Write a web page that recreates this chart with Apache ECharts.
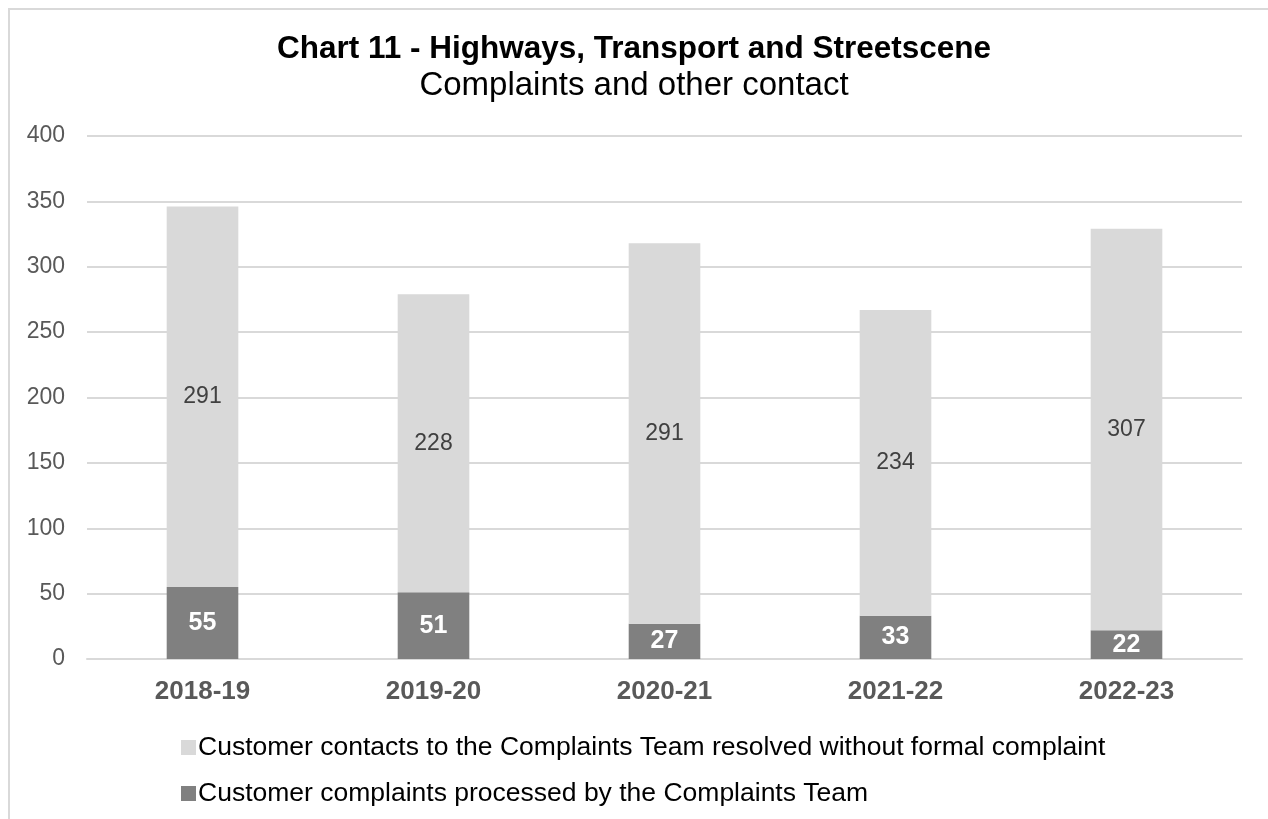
<!DOCTYPE html>
<html>
<head>
<meta charset="utf-8">
<script src="https://cdn.jsdelivr.net/npm/echarts@6/dist/echarts.min.js"></script>
<style>
    html, body { margin: 0; padding: 0; background: #fff; }
    #frame { position: absolute; left: 8px; top: 8px; width: 1300px; height: 900px; border: 2px solid #d9d9d9; box-sizing: border-box; }
    #chart { position: absolute; left: 0; top: 0; width: 1268px; height: 819px; }
</style>
</head>
<body>
<div id="frame"></div>
<div id="chart"></div>
<script>
    // 数据
    var categories = ['2018-19', '2019-20', '2020-21', '2021-22', '2022-23']
    var complaints = [55, 51, 27, 33, 22]
    var contacts = [291, 228, 291, 234, 307]
    var yTicks = { min: 0, max: 400, interval: 50 }
    var seriesNames = [
        'Customer contacts to the Complaints Team resolved without formal complaint',
        'Customer complaints processed by the Complaints Team'
    ]

    var font = 'Liberation Sans, Arial, sans-serif'

    var option = {
        animation: false,
        title: {
            text: 'Chart 11 - Highways, Transport and Streetscene',
            subtext: 'Complaints and other contact',
            left: 'center',
            top: 28,
            itemGap: 4,
            textStyle: { fontFamily: font, fontSize: 31.5, fontWeight: 'bold', color: '#000' },
            subtextStyle: { fontFamily: font, fontSize: 33, color: '#000' }
        },
        legend: {
            orient: 'vertical',
            left: 176,
            top: 729,
            itemWidth: 15,
            itemHeight: 15,
            itemGap: 19,
            icon: 'rect',
            textStyle: { fontFamily: font, fontSize: 26.5, color: '#000', padding: [0, 0, 0, -3] },
            data: [seriesNames[0], seriesNames[1]]
        },
        grid: { left: 87, right: 26, top: 136, bottom: 160, containLabel: false },
        xAxis: {
            type: 'category',
            data: categories,
            axisLine: { lineStyle: { color: '#d9d9d9', width: 2 } },
            axisTick: { show: false },
            axisLabel: { fontFamily: font, fontSize: 26, fontWeight: 'bold', color: '#595959', margin: 20 }
        },
        yAxis: {
            type: 'value',
            min: yTicks.min,
            max: yTicks.max,
            interval: yTicks.interval,
            axisLine: { show: false },
            axisTick: { show: false },
            splitLine: { lineStyle: { color: '#d9d9d9', width: 2 } },
            axisLabel: { fontFamily: font, fontSize: 23, color: '#595959', margin: 22 }
        },
        series: [{
            name: seriesNames[1],
            type: 'bar',
            stack: 'total',
            barWidth: '31%',
            data: complaints,
            itemStyle: { color: '#808080' },
            label: { show: true, position: 'inside', fontFamily: font, fontSize: 25, fontWeight: 'bold', color: '#fff' }
        }, {
            name: seriesNames[0],
            type: 'bar',
            stack: 'total',
            barWidth: '31%',
            data: contacts,
            itemStyle: { color: '#d9d9d9' },
            label: { show: true, position: 'inside', fontFamily: font, fontSize: 23, color: '#404040' }
        }]
    }
    var chart = echarts.init(document.getElementById('chart'))
    chart.setOption(option)
</script>
</body>
</html>
